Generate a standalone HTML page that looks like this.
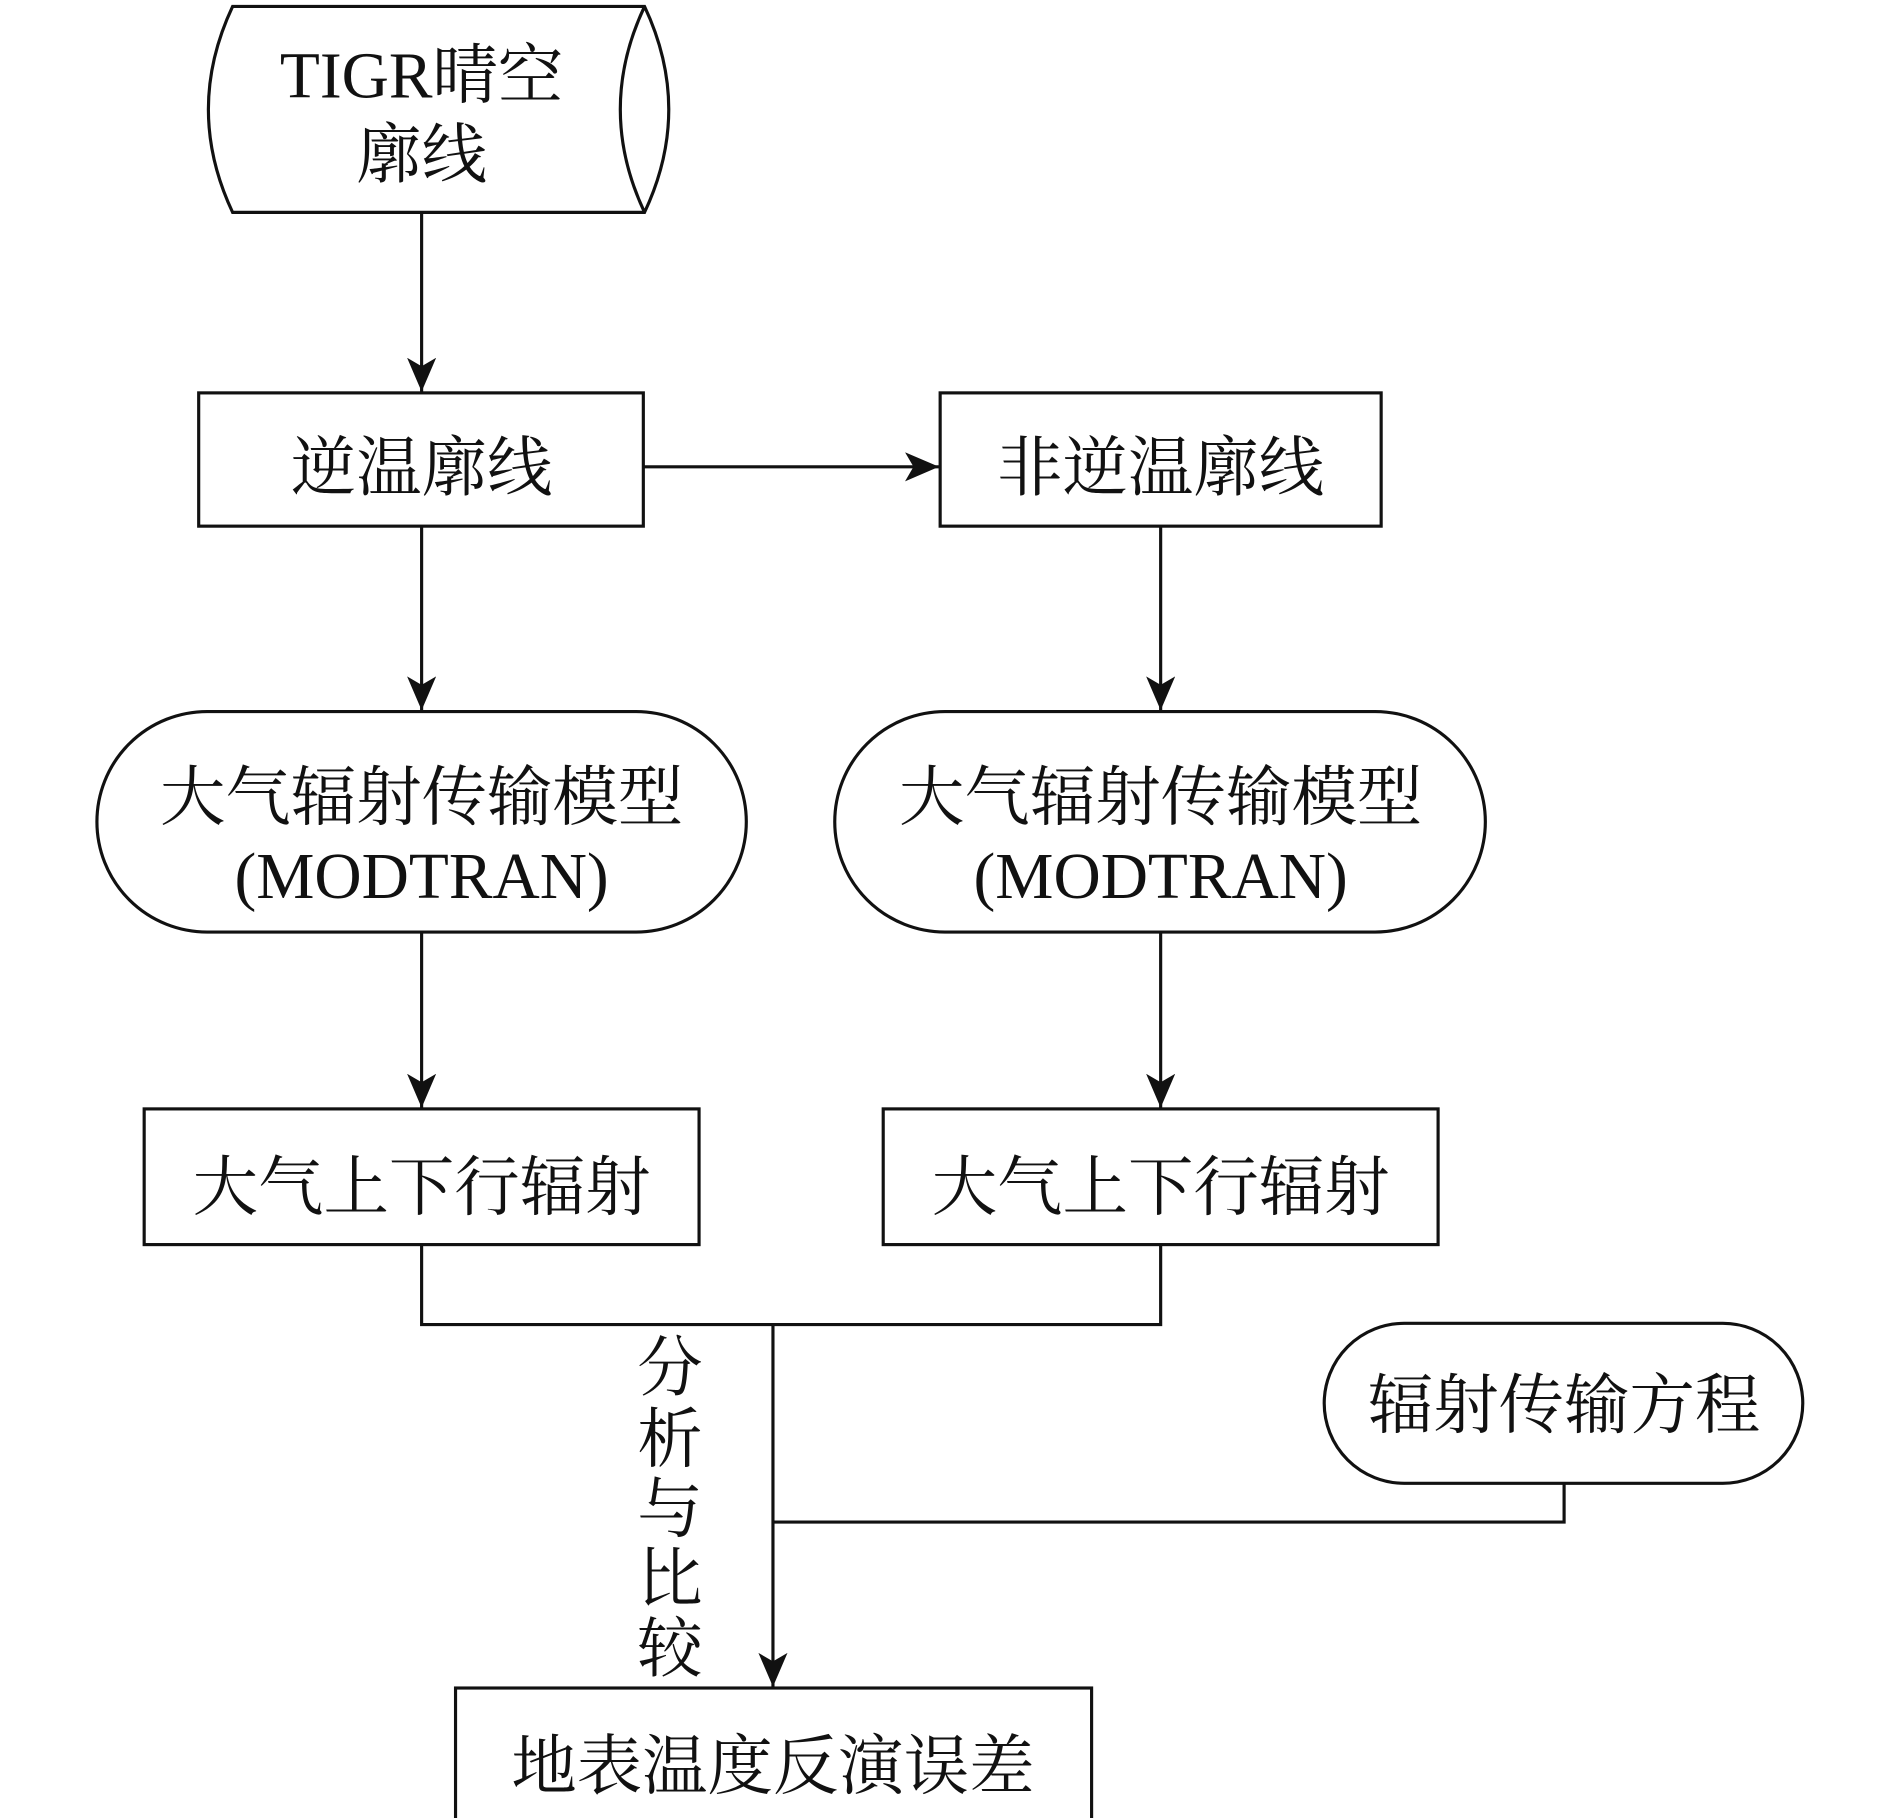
<!DOCTYPE html>
<html><head><meta charset="utf-8"><style>
html,body{margin:0;padding:0;background:#fff;}
svg{display:block;}
text{font-family:"Liberation Serif","Noto Serif CJK SC",serif;font-size:54px;fill:#111;text-anchor:middle;}
</style></head><body>
<svg width="1890" height="1818" viewBox="0 0 1560 1500" xmlns="http://www.w3.org/2000/svg">
<defs>
<marker id="a" markerWidth="30" markerHeight="30" refX="28" refY="12" orient="auto" markerUnits="userSpaceOnUse">
<path d="M0,0 L28,12 L0,24 L7,12 Z" fill="#111"/>
</marker>
</defs>
<g fill="none" stroke="#111" stroke-width="2.6">
<path d="M192,5 L532,5 Q572,90 532,175 L192,175 Q152,90 192,5 Z"/>
<path d="M532,5 Q492,90 532,175"/>
<rect x="164" y="324" width="367" height="110"/>
<rect x="776" y="324" width="364" height="110"/>
<rect x="80" y="587" width="536" height="182" rx="91" ry="91"/>
<rect x="689" y="587" width="537" height="182" rx="91" ry="91"/>
<rect x="119" y="915" width="458" height="112"/>
<rect x="729" y="915" width="458" height="112"/>
<rect x="1093" y="1092" width="395" height="132" rx="66" ry="66"/>
<rect x="376" y="1393" width="525" height="110"/>
<line x1="348" y1="175" x2="348" y2="323" marker-end="url(#a)"/>
<line x1="531" y1="385" x2="775" y2="385" marker-end="url(#a)"/>
<line x1="348" y1="434" x2="348" y2="586" marker-end="url(#a)"/>
<line x1="958" y1="434" x2="958" y2="586" marker-end="url(#a)"/>
<line x1="348" y1="769" x2="348" y2="914" marker-end="url(#a)"/>
<line x1="958" y1="769" x2="958" y2="914" marker-end="url(#a)"/>
<polyline points="348,1027 348,1093 958,1093 958,1027"/>
<polyline points="1291,1224 1291,1256 638,1256"/>
<line x1="638" y1="1093" x2="638" y2="1392" marker-end="url(#a)"/>
</g>
<text x="348" y="80">TIGR晴空</text>
<text x="348" y="146">廓线</text>
<text x="348" y="404">逆温廓线</text>
<text x="958" y="404">非逆温廓线</text>
<text x="348" y="676">大气辐射传输模型</text>
<text x="348" y="741">(MODTRAN)</text>
<text x="958" y="676">大气辐射传输模型</text>
<text x="958" y="741">(MODTRAN)</text>
<text x="348" y="998">大气上下行辐射</text>
<text x="958" y="998">大气上下行辐射</text>
<text x="1291" y="1178">辐射传输方程</text>
<text x="638" y="1476">地表温度反演误差</text>
<text x="553" y="1147">分</text>
<text x="553" y="1206">析</text>
<text x="553" y="1264">与</text>
<text x="553" y="1321">比</text>
<text x="553" y="1379">较</text>
</svg>
</body></html>
